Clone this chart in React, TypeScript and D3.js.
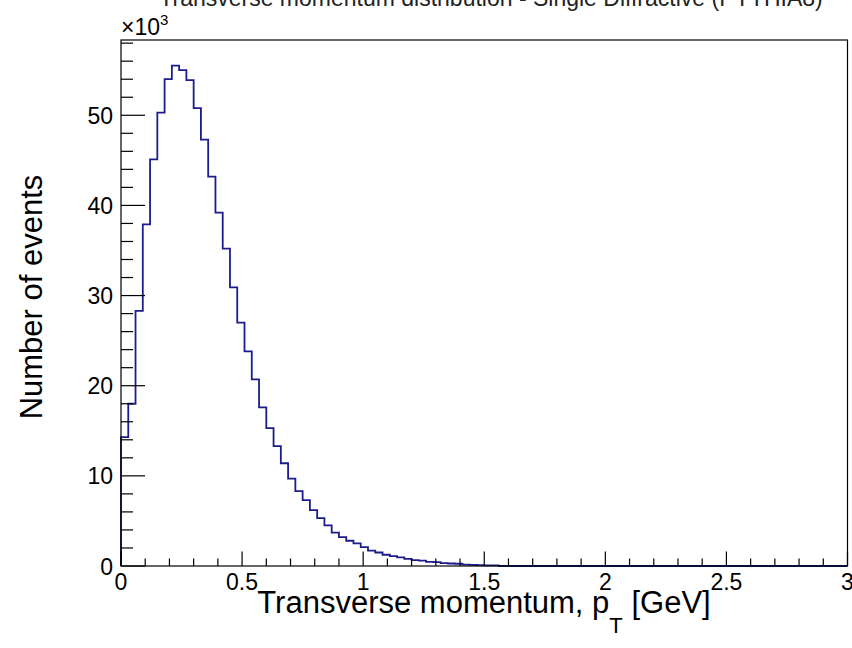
import React from "react";
import * as d3 from "d3";

// Histogram: transverse momentum, bin width 0.03 GeV starting at 0
const binWidth = 0.03;
const counts = [
  14300, 18000, 28300, 37900, 45100, 50300, 54000, 55500, 55000, 53900,
  50800, 47300, 43200, 39200, 35200, 30900, 27000, 23800, 20700, 17600,
  15300, 13300, 11400, 9700, 8300, 7300, 6200, 5300, 4500, 3700,
  3200, 2800, 2500, 2100, 1700, 1500, 1250, 1100, 950, 800,
  650, 600, 450, 420, 320, 280, 250, 150, 130, 100,
  80, 60,
];
const xTicks = [0, 0.5, 1, 1.5, 2, 2.5, 3];
const yTicks = [0, 10, 20, 30, 40, 50];
const titleText = "Transverse momentum distribution - Single Diffractive (PYTHIA8)";
const xTitle = "Transverse momentum, p";
const yTitle = "Number of events";

const W = 852;
const H = 648;
const L = 121, R = 847.5, T = 40, B = 566;
const FONT = "'Liberation Sans', Arial, Helvetica, sans-serif";

export default function App() {
  const x = d3.scaleLinear().domain([0, 3]).range([L, R]);
  const y = d3.scaleLinear().domain([0, 58.35]).range([B, T]);

  const pts: [number, number][] = [];
  pts.push([x(0), y(0)]);
  counts.forEach((c, i) => {
    const v = c / 1000;
    pts.push([x(i * binWidth), y(v)]);
    pts.push([x((i + 1) * binWidth), y(v)]);
  });
  pts.push([x(counts.length * binWidth), y(0)]);
  pts.push([x(3), y(0)]);
  const path = d3.line()(pts) || "";

  const xMinor = d3.range(0, 31).map((i) => i / 10);
  const yMinor = d3.range(0, 30).map((i) => i * 2).filter((v) => v <= 58.35);

  return (
    <div style={{ position: "absolute", left: 0, top: 0, width: W, height: H, background: "#fff" }}>
      <svg width={W} height={H} style={{ display: "block" }} fontFamily={FONT}>
        <rect x={0} y={0} width={W} height={H} fill="#fff" />
        <text x={491} y={6} fontSize={23} textAnchor="middle" fill="#222">{titleText}</text>
        <path d={path} fill="none" stroke="#1c1c8c" strokeWidth={1.8} />
        <rect x={L} y={T} width={R - L} height={B - T} fill="none" stroke="#000" strokeWidth={1.2} />
        {xMinor.map((v, i) => {
          const major = i % 5 === 0;
          return (
            <line key={"xm" + i} x1={x(v)} x2={x(v)} y1={B} y2={B - (major ? 14.5 : 7.5)} stroke="#000" strokeWidth={1.2} />
          );
        })}
        {yMinor.map((v, i) => {
          const major = v % 10 === 0;
          return (
            <line key={"ym" + i} x1={L} x2={L + (major ? 24 : 12)} y1={y(v)} y2={y(v)} stroke="#000" strokeWidth={1.2} />
          );
        })}
        {xTicks.map((v) => (
          <text key={"xl" + v} x={x(v)} y={590} fontSize={23} textAnchor="middle" fill="#000">{String(v)}</text>
        ))}
        {yTicks.map((v) => (
          <text key={"yl" + v} x={113} y={y(v) + 8.5} fontSize={23} textAnchor="end" fill="#000">{String(v)}</text>
        ))}
        <text x={L} y={35} fontSize={23} fill="#000">
          ×10<tspan fontSize={15} dy={-10}>3</tspan>
        </text>
        <text x={484} y={613} fontSize={31} textAnchor="middle" fill="#000">
          {xTitle}
          <tspan fontSize={22} dy={20}>T</tspan>
          <tspan dy={-20}> [GeV]</tspan>
        </text>
        <text transform={`translate(42, 297) rotate(-90)`} fontSize={31} textAnchor="middle" fill="#000">{yTitle}</text>
      </svg>
    </div>
  );
}
